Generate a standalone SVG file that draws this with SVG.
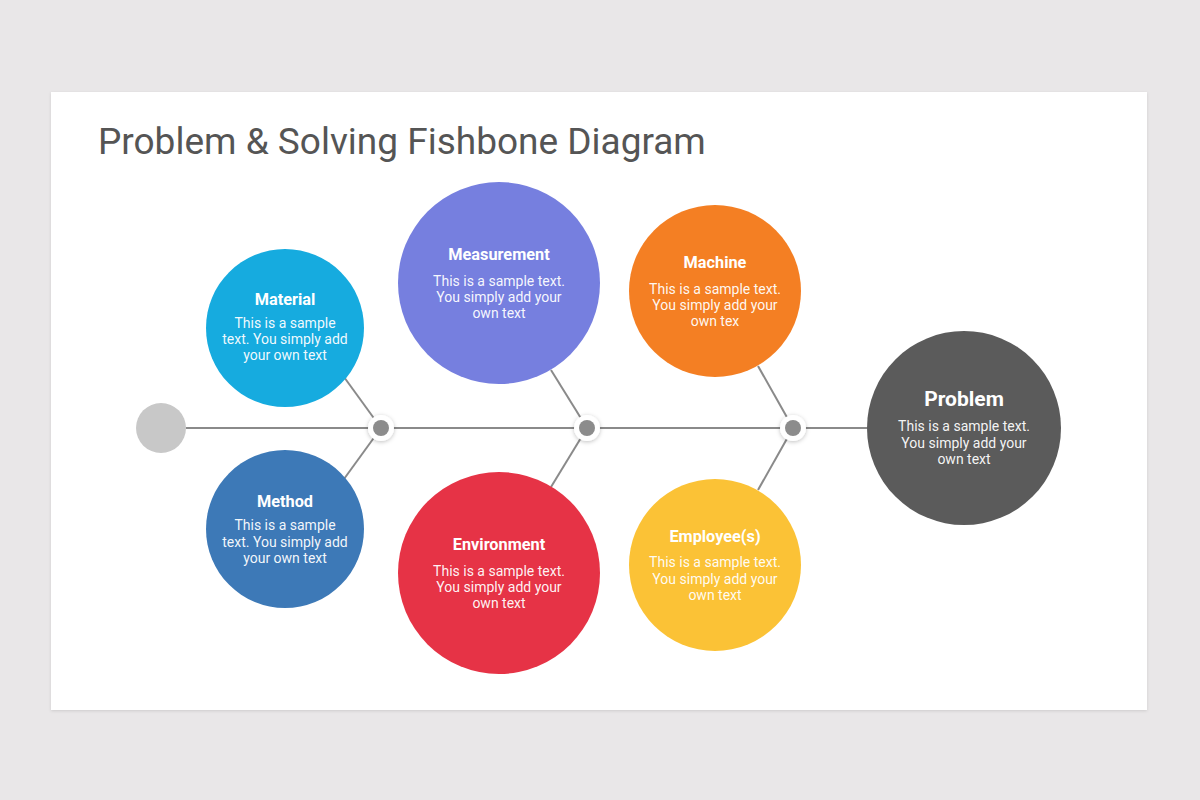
<svg xmlns="http://www.w3.org/2000/svg" width="1200" height="800" viewBox="0 0 1200 800">
<defs>
<filter id="sh" x="-50%" y="-50%" width="200%" height="200%">
<feDropShadow dx="0" dy="1" stdDeviation="2" flood-color="#000" flood-opacity="0.25"/>
</filter>
<filter id="cardsh" x="-5%" y="-5%" width="110%" height="110%">
<feDropShadow dx="0" dy="1" stdDeviation="1.5" flood-color="#000" flood-opacity="0.12"/>
</filter>
</defs>
<style>
.h{font-family:Roboto,"Liberation Sans",sans-serif;font-weight:700;fill:#fff;text-anchor:middle;font-size:16.3px}
.b{font-family:Roboto,"Liberation Sans",sans-serif;fill:#fff;text-anchor:middle;font-size:14px;fill-opacity:0.95}
.ln{stroke:#8a8a8a;stroke-width:2;fill:none}
.jo{fill:#fff;filter:url(#sh)}
.ji{fill:#8c8c8c}
</style>
<rect width="1200" height="800" fill="#e9e7e8"/>
<rect x="51" y="92" width="1096" height="618" fill="#fff" filter="url(#cardsh)"/>
<text x="98" y="154" font-family="Roboto,'Liberation Sans',sans-serif" font-size="37" fill="#555">Problem &amp; Solving Fishbone Diagram</text>

<g id="connectors">
<line class="ln" x1="186" y1="428" x2="867" y2="428"/>
<line class="ln" x1="381" y1="428" x2="344" y2="377"/>
<line class="ln" x1="381" y1="428" x2="344" y2="479"/>
<line class="ln" x1="587" y1="428" x2="551" y2="370"/>
<line class="ln" x1="587" y1="428" x2="551" y2="487"/>
<line class="ln" x1="793" y1="428" x2="758" y2="366"/>
<line class="ln" x1="793" y1="428" x2="758" y2="490"/>
</g>

<g id="tail"><circle cx="161" cy="428" r="25" fill="#c8c8c8"/></g>

<g id="joint1"><circle class="jo" cx="381" cy="428" r="13"/><circle class="ji" cx="381" cy="428" r="8"/></g>
<g id="joint2"><circle class="jo" cx="587" cy="428" r="13"/><circle class="ji" cx="587" cy="428" r="8"/></g>
<g id="joint3"><circle class="jo" cx="793" cy="428" r="13"/><circle class="ji" cx="793" cy="428" r="8"/></g>

<g id="material">
<circle cx="285" cy="328" r="79" fill="#16abdf"/>
<text class="h" x="285" y="305">Material</text>
<text class="b" x="285" y="328">This is a sample</text>
<text class="b" x="285" y="344">text. You simply add</text>
<text class="b" x="285" y="360">your own text</text>
</g>

<g id="method">
<circle cx="285" cy="529" r="79" fill="#3d79b7"/>
<text class="h" x="285" y="507">Method</text>
<text class="b" x="285" y="530">This is a sample</text>
<text class="b" x="285" y="547">text. You simply add</text>
<text class="b" x="285" y="563">your own text</text>
</g>

<g id="measurement">
<circle cx="499" cy="283" r="101" fill="#767fdf"/>
<text class="h" x="499" y="260">Measurement</text>
<text class="b" x="499" y="286">This is a sample text.</text>
<text class="b" x="499" y="302">You simply add your</text>
<text class="b" x="499" y="318">own text</text>
</g>

<g id="environment">
<circle cx="499" cy="573" r="101" fill="#e63346"/>
<text class="h" x="499" y="550">Environment</text>
<text class="b" x="499" y="576">This is a sample text.</text>
<text class="b" x="499" y="592">You simply add your</text>
<text class="b" x="499" y="608">own text</text>
</g>

<g id="machine">
<circle cx="715" cy="291" r="86" fill="#f47f23"/>
<text class="h" x="715" y="268">Machine</text>
<text class="b" x="715" y="294">This is a sample text.</text>
<text class="b" x="715" y="310">You simply add your</text>
<text class="b" x="715" y="326">own tex</text>
</g>

<g id="employee">
<circle cx="715" cy="565" r="86" fill="#fbc236"/>
<text class="h" x="715" y="542">Employee(s)</text>
<text class="b" x="715" y="567">This is a sample text.</text>
<text class="b" x="715" y="584">You simply add your</text>
<text class="b" x="715" y="600">own text</text>
</g>

<g id="problem">
<circle cx="964" cy="428" r="97" fill="#5b5b5b"/>
<text class="h" x="964" y="406" style="font-size:21px">Problem</text>
<text class="b" x="964" y="431">This is a sample text.</text>
<text class="b" x="964" y="448">You simply add your</text>
<text class="b" x="964" y="464">own text</text>
</g>
</svg>
